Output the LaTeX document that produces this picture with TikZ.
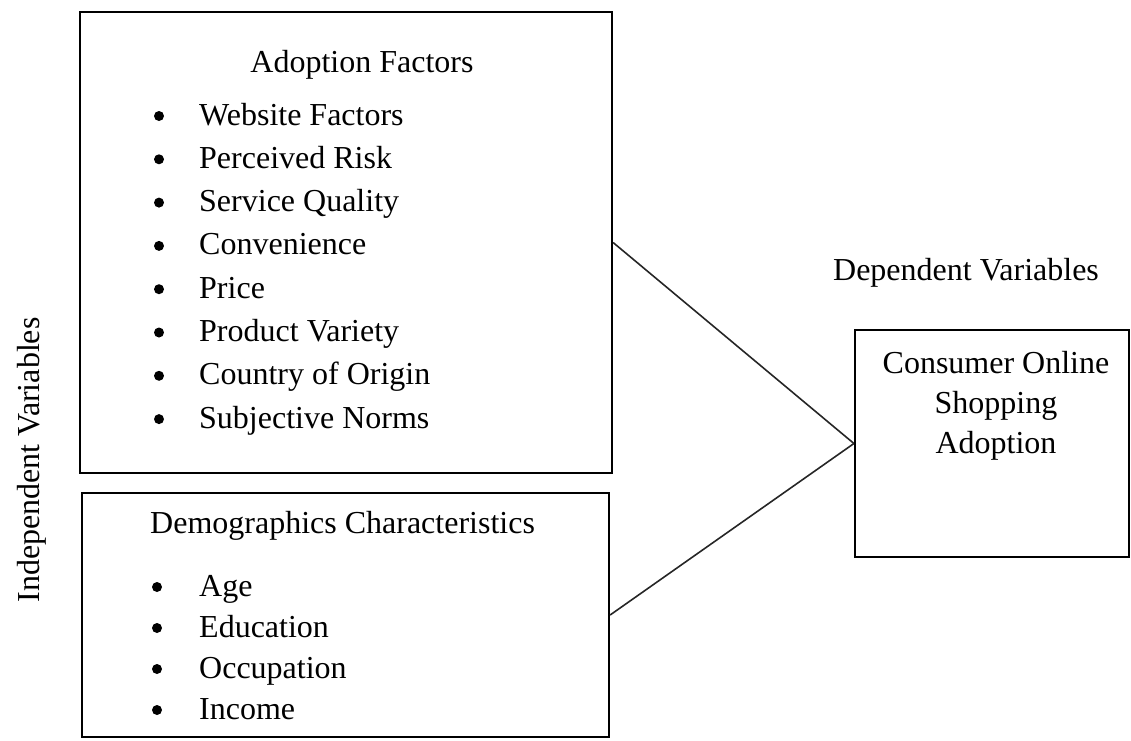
\documentclass[tikz,border=0pt]{standalone}
\usepackage{fontspec}
\setmainfont{Liberation Serif}
\begin{document}
\begin{tikzpicture}[x=1pt,y=-1pt,
  box/.style={draw=black, line width=2.2pt, inner sep=0pt},
  link/.style={draw=black!85, line width=1.6pt},
  txt/.style={inner sep=0pt, font=\fontsize{32}{38}\selectfont},
  item/.style={txt, anchor=base west},
  dot/.style={fill=black, circle, inner sep=0pt, minimum size=10pt}]
\useasboundingbox (0,0) rectangle (1131,740);
% boxes
\node[box, minimum width=532pt, minimum height=461pt] (top) at (346,242.5) {};
\node[box, minimum width=527pt, minimum height=244pt] (bot) at (345.5,615) {};
\node[box, minimum width=274pt, minimum height=227pt] (dep) at (992,443.5) {};
% connectors
\draw[link] (top.east) -- (dep.west);
\draw[link] (bot.east) -- (dep.west);
% top box
\node[txt, anchor=base] (t0) at (362,72) {Adoption Factors};
\foreach \i/\t in {0/Website Factors,1/Perceived Risk,2/Service Quality,3/Convenience,4/Price,5/Product Variety,6/Country of Origin,7/Subjective Norms}{
  \node[dot] (tb\i) at (159,{125+43.3*\i-9}) {};
  \node[item] (ti\i) at (199,{125+43.3*\i}) {\t};
}
% bottom box
\node[txt, anchor=base west] (d0) at (150,533) {Demographics Characteristics};
\foreach \i/\t in {0/Age,1/Education,2/Occupation,3/Income}{
  \node[dot] (db\i) at (157,{596+41*\i-9}) {};
  \node[item] (di\i) at (199,{596+41*\i}) {\t};
}
% right box
\node[txt, anchor=base] (c1) at (996,373) {Consumer Online};
\node[txt, anchor=base] (c2) at (996,413) {Shopping};
\node[txt, anchor=base] (c3) at (996,453) {Adoption};
% side labels
\node[txt, anchor=base] (dv) at (966,280) {Dependent Variables};
\node[txt, rotate=90, anchor=base] (iv) at (39,460) {Independent Variables};
\end{tikzpicture}
\end{document}
